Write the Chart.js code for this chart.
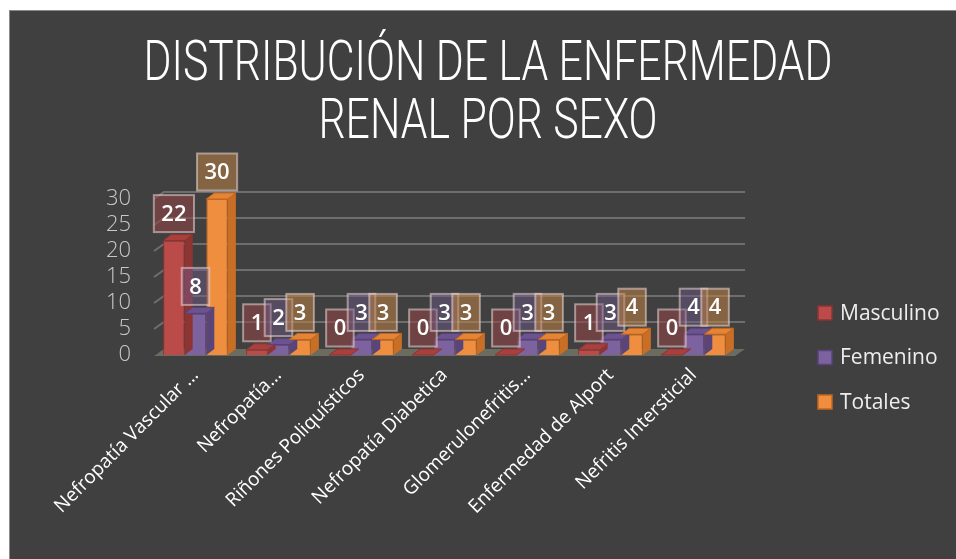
<!DOCTYPE html>
<html>
<head>
<meta charset="utf-8">
<script src="https://cdn.jsdelivr.net/npm/chart.js@4/dist/chart.umd.min.js"></script>
<style>
  html, body { margin: 0; padding: 0; background: #ffffff; }
  #frame { position: absolute; left: 9px; top: 10px; width: 946px; height: 548px;
           background: #404040; border-left: 1px solid #8a8a8a; border-top: 1px solid #8a8a8a; }
  canvas { position: absolute; left: 0; top: 0; }
</style>
</head>
<body>
<div id="frame"><canvas id="c" width="946" height="548"></canvas></div>
<script>
const titleLines = ["DISTRIBUCIÓN DE LA ENFERMEDAD", "RENAL POR SEXO"];
const categories = ["Nefropatía Vascular ...", "Nefropatía...", "Riñones Poliquísticos", "Nefropatía Diabetica", "Glomerulonefritis...", "Enfermedad de Alport", "Nefritis Intersticial"];
const seriesNames = ["Masculino", "Femenino", "Totales"];
const masculino = [22, 1, 0, 0, 0, 1, 0];
const femenino = [8, 2, 3, 3, 3, 3, 4];
const totales = [30, 3, 3, 3, 3, 4, 4];
const yTicks = [0, 5, 10, 15, 20, 25, 30];

const fills = ["#bb4b48", "#7d62a0", "#ee8e3e"];
const borders = ["#8a3432", "#58437a", "#c4661c"];
const sides = ["#8e3533", "#5a4578", "#c86f25"];
const tops = ["#a9403d", "#6c5290", "#e58435"];
const boxFills = ["rgba(150,70,70,0.55)", "rgba(110,90,140,0.45)", "rgba(190,130,70,0.55)"];

const DX = 8, DY = -6;

const threeD = {
  id: 'threeD',
  beforeDatasetsDraw(chart) {
    const ctx = chart.ctx, a = chart.chartArea, ys = chart.scales.y;
    ctx.save();
    ctx.strokeStyle = '#6e6e6e';
    ctx.lineWidth = 2;
    yTicks.forEach(v => {
      if (v === 0) return;
      const y = ys.getPixelForValue(v);
      ctx.beginPath();
      ctx.moveTo(a.left, y);
      ctx.lineTo(a.left + 10, y - 7);
      ctx.lineTo(a.right + 10, y - 7);
      ctx.stroke();
    });
    const b = ys.getPixelForValue(0);
    ctx.fillStyle = '#6b6b60';
    ctx.beginPath();
    ctx.moveTo(a.left, b + 1);
    ctx.lineTo(a.left + 10, b - 6);
    ctx.lineTo(a.right + 10, b - 6);
    ctx.lineTo(a.right, b + 1);
    ctx.closePath();
    ctx.fill();
    ctx.restore();
  },
  afterDatasetsDraw(chart) {
    const ctx = chart.ctx;
    ctx.save();
    chart.data.datasets.forEach((ds, di) => {
      const meta = chart.getDatasetMeta(di);
      meta.data.forEach(el => {
        const w = el.width, l = el.x - w / 2, r = el.x + w / 2, t = el.y, bs = el.base;
        ctx.fillStyle = sides[di];
        ctx.beginPath();
        ctx.moveTo(r, t); ctx.lineTo(r + DX, t + DY); ctx.lineTo(r + DX, bs + DY); ctx.lineTo(r, bs);
        ctx.closePath(); ctx.fill();
        ctx.fillStyle = tops[di];
        ctx.beginPath();
        ctx.moveTo(l, t); ctx.lineTo(l + DX, t + DY); ctx.lineTo(r + DX, t + DY); ctx.lineTo(r, t);
        ctx.closePath(); ctx.fill();
        ctx.strokeStyle = borders[di]; ctx.lineWidth = 1;
        ctx.stroke();
      });
    });
    ctx.restore();
  },
  afterDraw(chart) {
    const ctx = chart.ctx;
    ctx.save();
    // title (condensed by horizontal scaling)
    ctx.fillStyle = '#ffffff';
    ctx.textAlign = 'center';
    ctx.textBaseline = 'alphabetic';
    ctx.font = '300 56px Roboto, "Open Sans", sans-serif';
    const w1 = ctx.measureText(titleLines[0]).width;
    const sx = 689 / w1;
    const cxT = 478;
    [69, 127].forEach((by, i) => {
      ctx.save();
      ctx.translate(cxT, by);
      ctx.scale(sx, 1);
      ctx.fillText(titleLines[i], 0, 0);
      ctx.restore();
    });
    // data label boxes
    ctx.font = '600 22px "Open Sans", "DejaVu Sans", sans-serif';
    ctx.textAlign = 'center';
    ctx.textBaseline = 'middle';
    chart.data.datasets.forEach((ds, di) => {
      const meta = chart.getDatasetMeta(di);
      meta.data.forEach((el, i) => {
        const txt = String(ds.data[i]);
        const tw = ctx.measureText(txt).width;
        const bw = tw + 15, bh = 37;
        const cx = el.x, cy = el.y - 27;
        ctx.fillStyle = boxFills[di];
        ctx.fillRect(cx - bw / 2, cy - bh / 2, bw, bh);
        ctx.strokeStyle = 'rgba(235,215,215,0.55)';
        ctx.lineWidth = 2;
        ctx.strokeRect(cx - bw / 2, cy - bh / 2, bw, bh);
        ctx.fillStyle = '#ffffff';
        ctx.fillText(txt, cx, cy + 1);
      });
    });
    // legend
    const lx = 808, ly0 = 302, step = 44.5;
    ctx.font = '21px "Open Sans", "DejaVu Sans", sans-serif';
    ctx.textAlign = 'left';
    chart.data.datasets.forEach((ds, di) => {
      const y = ly0 + di * step;
      ctx.fillStyle = fills[di];
      ctx.fillRect(lx, y - 7, 14, 14);
      ctx.strokeStyle = borders[di];
      ctx.lineWidth = 1.5;
      ctx.strokeRect(lx, y - 7, 14, 14);
      ctx.fillStyle = '#eeeeee';
      ctx.fillText(ds.label, lx + 22, y + 1);
    });
    ctx.restore();
  }
};

new Chart(document.getElementById('c'), {
  type: 'bar',
  data: {
    labels: categories,
    datasets: [
      { label: seriesNames[0], data: masculino, backgroundColor: fills[0], borderColor: borders[0], borderWidth: 1 },
      { label: seriesNames[1], data: femenino, backgroundColor: fills[1], borderColor: borders[1], borderWidth: 1 },
      { label: seriesNames[2], data: totales, backgroundColor: fills[2], borderColor: borders[2], borderWidth: 1 }
    ]
  },
  options: {
    responsive: false,
    animation: false,
    layout: { padding: { left: 0, right: 221, top: 188, bottom: 0 } },
    datasets: { bar: { barPercentage: 1, categoryPercentage: 0.78 } },
    scales: {
      x: {
        grid: { display: false },
        border: { display: false },
        afterFit(s) { s.height = 204; },
        ticks: {
          color: '#ffffff',
          font: { family: '"Open Sans", "DejaVu Sans", sans-serif', size: 19 },
          minRotation: 45, maxRotation: 45, autoSkip: false, padding: 1
        }
      },
      y: {
        min: 0, max: 30,
        grid: { display: false },
        border: { display: false },
        afterFit(s) { s.width = 144; },
        ticks: {
          stepSize: 5,
          autoSkip: false,
          color: '#c8c8c8',
          padding: 15,
          font: { family: '"Open Sans", "DejaVu Sans", sans-serif', size: 22, weight: '300' }
        }
      }
    },
    plugins: {
      legend: { display: false },
      tooltip: { enabled: false },
      title: { display: false }
    }
  },
  plugins: [threeD]
});
</script>
</body>
</html>
